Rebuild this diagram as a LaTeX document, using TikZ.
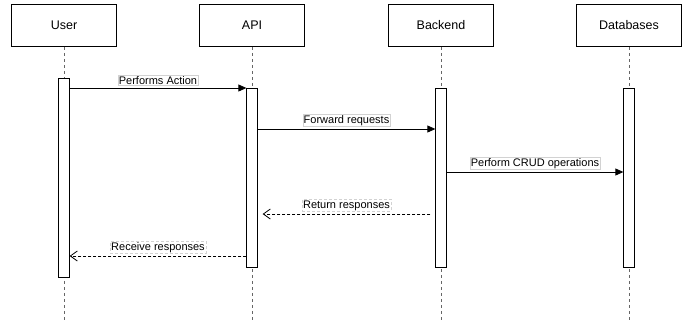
\documentclass[tikz,border=0pt]{standalone}
\usepackage{fontspec}
\setmainfont{Liberation Sans}
\usetikzlibrary{arrows.meta,positioning,calc}

\begin{document}
\begin{tikzpicture}[x=1pt, y=-1pt, line width=0.8pt,
    actor/.style={draw, rectangle, minimum width=105pt, minimum height=42pt,
      anchor=north, font=\fontsize{12.5}{14}\selectfont},
    actbar/.style={draw, fill=white, rectangle, minimum width=10.5pt, anchor=north, inner sep=0pt},
    lifeline/.style={gray!80!black, dash pattern=on 3pt off 3pt},
    msglbl/.style={fill=white, draw=gray!35, line width=0.4pt, inner sep=1pt,
      font=\fontsize{11}{12}\selectfont, midway, above=2.5pt},
    callmsg/.style={-{Triangle[length=8pt,width=7pt]}},
    retmsg/.style={dashed, dash pattern=on 3pt off 2pt, -{Straight Barb[length=7pt,width=10pt]}}]
  \useasboundingbox (0,0) rectangle (686,322);

  %% Participants and lifelines
  \foreach \x/\nm/\lbl in {64/user/User, 252/api/API, 441/back/Backend, 629/db/Databases}{
    \node[actor] (\nm) at (\x,4) {\lbl};
    \coordinate (\nm end) at (\x,320);
    \draw[lifeline] (\nm.south) -- (\nm end);
  }

  %% Activation bars
  \node[actbar, minimum height=199pt] (ubar) at (64,78) {};
  \node[actbar, minimum height=179pt] (abar) at (252,88) {};
  \node[actbar, minimum height=179pt] (bbar) at (441,88) {};
  \node[actbar, minimum height=179pt] (dbar) at (629,88) {};

  %% Message levels
  \coordinate (m1) at (0,88);
  \coordinate (m2) at (0,129);
  \coordinate (m3) at (0,172);
  \coordinate (m4) at (0,214);
  \coordinate (m5) at (0,256);

  %% Messages
  \draw[callmsg] (ubar.east |- m1) -- (abar.west |- m1) node[msglbl] {Performs Action};
  \draw[callmsg] (abar.east |- m2) -- (bbar.west |- m2) node[msglbl] {Forward requests};
  \draw[callmsg] (bbar.east |- m3) -- (dbar.west |- m3) node[msglbl] {Perform CRUD operations};
  \draw[retmsg, shorten <=5pt, shorten >=5pt] (bbar.west |- m4) -- (abar.east |- m4) node[msglbl] {Return responses};
  \draw[retmsg] (abar.west |- m5) -- (ubar.east |- m5) node[msglbl] {Receive responses};
\end{tikzpicture}
\end{document}
